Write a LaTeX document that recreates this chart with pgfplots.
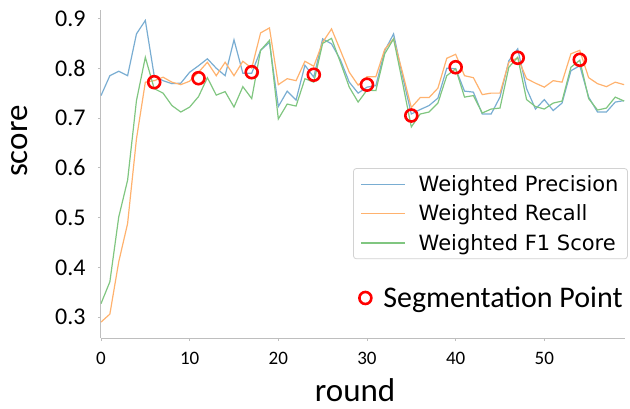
\documentclass[border=0pt]{standalone}
\usepackage{pgfplots}
\pgfplotsset{compat=1.18}
\usepackage{pgfplotstable}
\usepackage{fontspec}
\setmainfont{Carlito}
\newfontfamily\legfont{DejaVu Sans}
\definecolor{cblue}{RGB}{121,173,210}
\definecolor{corange}{RGB}{255,178,110}
\definecolor{cgreen}{RGB}{128,198,128}
\definecolor{axgray}{RGB}{190,190,190}

\pgfplotstableread{
r prec rec f1
0 0.745 0.290 0.327
1 0.785 0.306 0.371
2 0.794 0.411 0.501
3 0.785 0.488 0.575
4 0.869 0.658 0.735
5 0.896 0.772 0.822
6 0.785 0.775 0.759
7 0.775 0.782 0.750
8 0.769 0.772 0.725
9 0.770 0.767 0.712
10 0.792 0.774 0.722
11 0.805 0.792 0.743
12 0.819 0.812 0.781
13 0.800 0.785 0.746
14 0.785 0.812 0.753
15 0.857 0.785 0.722
16 0.790 0.814 0.763
17 0.790 0.800 0.739
18 0.836 0.871 0.836
19 0.852 0.881 0.856
20 0.723 0.767 0.698
21 0.754 0.779 0.728
22 0.736 0.775 0.724
23 0.806 0.814 0.779
24 0.782 0.804 0.772
25 0.859 0.852 0.850
26 0.849 0.879 0.860
27 0.817 0.836 0.812
28 0.772 0.792 0.762
29 0.750 0.766 0.732
30 0.762 0.783 0.756
31 0.765 0.783 0.755
32 0.835 0.838 0.829
33 0.869 0.859 0.859
34 0.785 0.792 0.772
35 0.708 0.721 0.682
36 0.717 0.741 0.708
37 0.725 0.741 0.712
38 0.740 0.760 0.730
39 0.800 0.820 0.785
40 0.799 0.828 0.799
41 0.754 0.785 0.742
42 0.752 0.781 0.745
43 0.708 0.747 0.710
44 0.708 0.750 0.718
45 0.742 0.750 0.720
46 0.815 0.812 0.802
47 0.839 0.821 0.822
48 0.759 0.779 0.737
49 0.718 0.770 0.723
50 0.737 0.762 0.718
51 0.715 0.775 0.730
52 0.730 0.772 0.734
53 0.795 0.829 0.802
54 0.805 0.836 0.816
55 0.742 0.781 0.739
56 0.712 0.769 0.716
57 0.712 0.763 0.720
58 0.732 0.772 0.742
59 0.735 0.767 0.734
}\scores

\pgfplotstableread{
r v
6 0.772
11 0.780
17 0.792
24 0.787
30 0.767
35 0.705
40 0.802
47 0.821
54 0.817
}\segpts

\begin{document}
\begin{tikzpicture}
\begin{axis}[
  name=main,
  scale only axis,
  width=524bp, height=328bp,
  xmin=0, xmax=59.1, ymin=0.258, ymax=0.917,
  axis x line*=bottom, axis y line*=left,
  axis line style={axgray, line width=1bp, -},
  xtick={0,10,20,30,40,50},
  ytick={0.3,0.4,0.5,0.6,0.7,0.8,0.9},
  tick style={axgray, line width=0.8bp},
  major tick length=3bp,
  tick align=outside,
  /pgf/number format/assume math mode=true,
  y tick label style={/pgf/number format/fixed, /pgf/number format/fixed zerofill, /pgf/number format/precision=1, font=\fontsize{24bp}{27bp}\selectfont, xshift=-9bp},
  x tick label style={font=\fontsize{19bp}{22bp}\selectfont, yshift=-8bp},
  xlabel={round}, ylabel={score},
  label style={font=\fontsize{33bp}{36bp}\selectfont},
  xlabel style={at={(axis description cs:0.485,-0.195)}, anchor=base},
  ylabel style={at={(axis description cs:-0.141,0.60)}, anchor=base},
  legend style={at={(axis description cs:0.481,0.518)}, anchor=north west,
    draw=gray!35, rounded corners=3bp, line width=0.8bp,
    font=\legfont\fontsize{21bp}{25bp}\selectfont,
    row sep=8bp, column sep=11bp, inner xsep=7bp, inner ysep=5bp},
  legend cell align=left,
  legend image code/.code={\draw[#1, line width=1.3bp] (0bp,0bp) -- (44bp,0bp);},
]
\addplot[draw=cblue, line width=1.2bp] table[x=r, y=prec] {\scores};
\addlegendentry{Weighted Precision}
\addplot[draw=corange, line width=1.2bp] table[x=r, y=rec] {\scores};
\addlegendentry{Weighted Recall}
\addplot[draw=cgreen, line width=1.2bp] table[x=r, y=f1] {\scores};
\addlegendentry{Weighted F1 Score}
\end{axis}
\begin{axis}[
  scale only axis,
  width=524bp, height=328bp,
  xmin=0, xmax=59.1, ymin=0.258, ymax=0.917,
  hide axis, clip=false,
  legend style={at={(axis description cs:0.487,0.122)}, anchor=west,
    draw=none, fill=none, column sep=10bp,
    font=\fontsize{30bp}{33bp}\selectfont},
  legend cell align=left,
]
\addplot[only marks, mark=o, mark size=6bp, mark options={draw=red, line width=2.6bp}] table[x=r, y=v] {\segpts};
\addlegendentry{Segmentation Point}
\end{axis}
\pgfresetboundingbox
\path[use as bounding box] ([xshift=-101bp,yshift=-71bp]main.south west) rectangle ([xshift=5bp,yshift=10bp]main.north east);
\end{tikzpicture}
\end{document}
